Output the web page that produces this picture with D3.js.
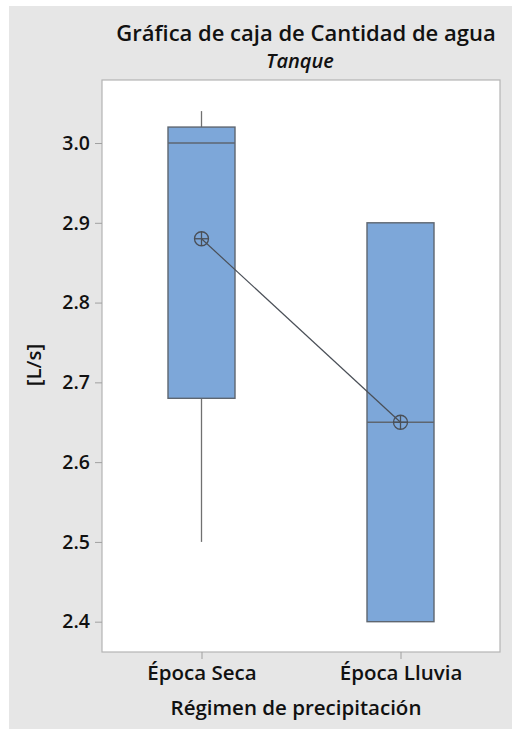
<!DOCTYPE html>
<html>
<head>
<meta charset="utf-8">
<script src="https://cdn.jsdelivr.net/npm/d3@7"></script>
<style>
  html, body { margin: 0; padding: 0; background: #ffffff; }
  svg { display: block; }
  text { font-family: "Open Sans", "Noto Sans", sans-serif; fill: #111; }
</style>
</head>
<body>
<svg id="chart" width="512" height="729"></svg>
<script>
// Boxplot summary per group (values in L/s)
const categories = ["Época Seca", "Época Lluvia"];
const whiskerLow  = [2.50, 2.40];
const q1          = [2.68, 2.40];
const median      = [3.00, 2.65];
const q3          = [3.02, 2.90];
const whiskerHigh = [3.04, 2.90];
const means       = [2.88, 2.65];
const yTicks      = [2.4, 2.5, 2.6, 2.7, 2.8, 2.9, 3.0];

const title = "Gráfica de caja de Cantidad de agua";
const subtitle = "Tanque";
const xTitle = "Régimen de precipitación";
const yTitle = "[L/s]";

const W = 512, H = 729;
const plot = { left: 102, top: 80, right: 500, bottom: 652 };
const boxWidth = 67;

const svg = d3.select("#chart");

// figure background
svg.append("rect")
  .attr("x", 9).attr("y", 6)
  .attr("width", W - 9).attr("height", H - 6)
  .attr("fill", "#e6e6e6");

// plot area
svg.append("rect")
  .attr("x", plot.left).attr("y", plot.top)
  .attr("width", plot.right - plot.left).attr("height", plot.bottom - plot.top)
  .attr("fill", "#ffffff")
  .attr("stroke", "#b4b4b4").attr("stroke-width", 1.2);

const x = d3.scalePoint()
  .domain(categories)
  .range([plot.left, plot.right])
  .padding(0.5);

const y = d3.scaleLinear()
  .domain([2.362, 3.079])
  .range([plot.bottom, plot.top]);

// y axis
const yAxis = svg.append("g")
  .attr("transform", `translate(${plot.left},0)`)
  .call(d3.axisLeft(y).tickValues(yTicks).tickFormat(d3.format(".1f")).tickSize(7).tickPadding(5));
yAxis.select(".domain").remove();
yAxis.selectAll(".tick line").attr("stroke", "#a0a0a0");
yAxis.selectAll(".tick text")
  .attr("font-size", 19.5).attr("font-weight", 600)
  .attr("font-family", "'Open Sans', sans-serif").attr("fill", "#111");

// x axis
const xAxis = svg.append("g")
  .attr("transform", `translate(0,${plot.bottom})`)
  .call(d3.axisBottom(x).tickSize(7).tickPadding(6));
xAxis.select(".domain").remove();
xAxis.selectAll(".tick line").attr("stroke", "#a0a0a0");
xAxis.selectAll(".tick text")
  .attr("font-size", 20.5).attr("font-weight", 600)
  .attr("font-family", "'Open Sans', sans-serif").attr("fill", "#111")
  .attr("dy", null).attr("y", 28);

const boxStroke = "#5e6670";
const groups = categories.map((c, i) => ({
  c, lo: whiskerLow[i], q1: q1[i], med: median[i], q3: q3[i], hi: whiskerHigh[i], mean: means[i]
}));

const g = svg.append("g");

// whiskers
g.selectAll("line.wlow").data(groups).join("line")
  .attr("x1", d => x(d.c)).attr("x2", d => x(d.c))
  .attr("y1", d => y(d.q1)).attr("y2", d => y(d.lo))
  .attr("stroke", "#707070").attr("stroke-width", 1.3);
g.selectAll("line.whigh").data(groups).join("line")
  .attr("x1", d => x(d.c)).attr("x2", d => x(d.c))
  .attr("y1", d => y(d.q3)).attr("y2", d => y(d.hi))
  .attr("stroke", "#707070").attr("stroke-width", 1.3);

// boxes
g.selectAll("rect.box").data(groups).join("rect")
  .attr("x", d => x(d.c) - boxWidth / 2)
  .attr("y", d => y(d.q3))
  .attr("width", boxWidth)
  .attr("height", d => y(d.q1) - y(d.q3))
  .attr("fill", "#7da7d9")
  .attr("stroke", boxStroke).attr("stroke-width", 1.4);

// medians
g.selectAll("line.median").data(groups).join("line")
  .attr("x1", d => x(d.c) - boxWidth / 2).attr("x2", d => x(d.c) + boxWidth / 2)
  .attr("y1", d => y(d.med)).attr("y2", d => y(d.med))
  .attr("stroke", boxStroke).attr("stroke-width", 1.4);

// mean connect line
g.append("path")
  .datum(groups)
  .attr("d", d3.line().x(d => x(d.c)).y(d => y(d.mean)))
  .attr("fill", "none").attr("stroke", "#4a4f57").attr("stroke-width", 1.2);

// mean symbols (circle with cross)
const r = 7;
const ms = g.selectAll("g.mean").data(groups).join("g")
  .attr("transform", d => `translate(${x(d.c)},${y(d.mean)})`);
ms.append("circle").attr("r", r)
  .attr("fill", "none").attr("stroke", "#4a4f57").attr("stroke-width", 1.3);
ms.append("line").attr("x1", -r).attr("x2", r)
  .attr("stroke", "#4a4f57").attr("stroke-width", 1.3);
ms.append("line").attr("y1", -r).attr("y2", r)
  .attr("stroke", "#4a4f57").attr("stroke-width", 1.3);

// titles
svg.append("text")
  .attr("x", 306).attr("y", 41)
  .attr("text-anchor", "middle")
  .attr("font-size", 22).attr("font-weight", 600)
  .text(title);
svg.append("text")
  .attr("x", 300).attr("y", 68)
  .attr("text-anchor", "middle")
  .attr("font-size", 20).attr("font-weight", 600).attr("font-style", "italic")
  .text(subtitle);
svg.append("text")
  .attr("x", 296).attr("y", 715)
  .attr("text-anchor", "middle")
  .attr("font-size", 20.5).attr("font-weight", 600)
  .text(xTitle);
svg.append("text")
  .attr("transform", "translate(41,365) rotate(-90)")
  .attr("text-anchor", "middle")
  .attr("font-size", 20.5).attr("font-weight", 600)
  .text(yTitle);
</script>
</body>
</html>
